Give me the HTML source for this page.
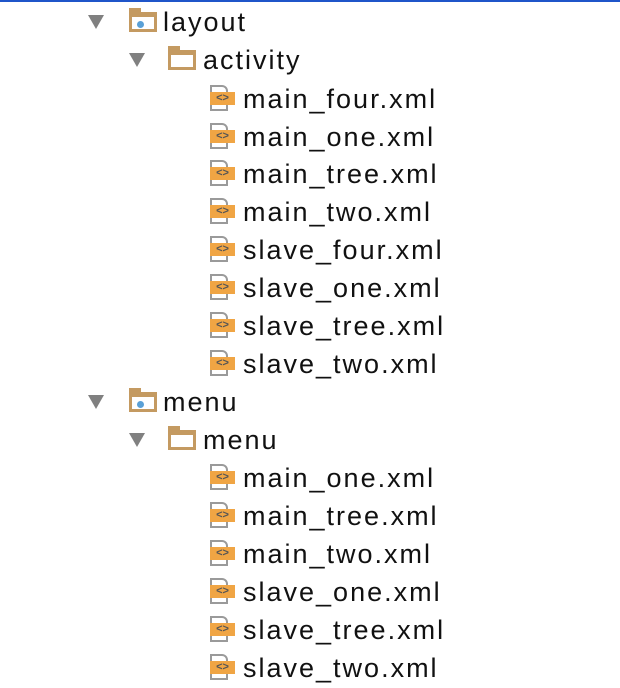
<!DOCTYPE html>
<html><head><style>
body{margin:0;width:620px;height:688px;background:#fff;position:relative;overflow:hidden;font-family:"Liberation Sans","DejaVu Sans",sans-serif;}
.top{position:absolute;left:0;top:0;width:620px;height:2px;background:#1f55c9;}
.r{position:absolute;height:38px;line-height:38px;font-size:27px;letter-spacing:2px;color:#111;white-space:nowrap;}
.tri{position:absolute;width:0;height:0;border-left:8px solid transparent;border-right:8px solid transparent;border-top:14px solid #808080;}
.fold{position:absolute;width:28px;height:20px;border:3px solid #c49a61;border-top-width:5px;box-sizing:border-box;background:#fff;}
.fold:before{content:"";position:absolute;left:-3px;top:-9px;width:12px;height:5px;background:#c49a61;}
.dot:after{content:"";position:absolute;left:5px;top:4px;width:7px;height:7px;border-radius:50%;background:#5aa0d6;}
.doc{position:absolute;width:18px;height:26px;border:2px solid #9a9a9a;box-sizing:border-box;border-top-right-radius:6px;background:#fff;}
.band{position:absolute;width:25px;height:13px;background:#f0a544;color:#555;font-size:11px;line-height:13px;text-align:center;font-weight:bold;}
</style></head><body>
<div class="top"></div>
<div class="tri" style="left:88px;top:15px"></div>
<div class="fold dot" style="left:129px;top:12px"></div>
<div class="r" style="left:163px;top:3px">layout</div>
<div class="tri" style="left:129px;top:53px"></div>
<div class="fold" style="left:168px;top:50px"></div>
<div class="r" style="left:203px;top:41px">activity</div>

<div class="tri" style="left:88px;top:395px"></div>
<div class="fold dot" style="left:129px;top:392px"></div>
<div class="r" style="left:163px;top:383px">menu</div>
<div class="tri" style="left:129px;top:433px"></div>
<div class="fold" style="left:168px;top:430px"></div>
<div class="r" style="left:203px;top:421px">menu</div>

<div id="files"></div>
<script>
var a=[["main_four.xml",99],["main_one.xml",137],["main_tree.xml",174],["main_two.xml",212],["slave_four.xml",250],["slave_one.xml",288],["slave_tree.xml",326],["slave_two.xml",364],
["main_one.xml",478],["main_tree.xml",516],["main_two.xml",554],["slave_one.xml",592],["slave_tree.xml",630],["slave_two.xml",668]];
var h="";
a.forEach(function(f){var c=f[1];
h+='<div class="doc" style="left:210px;top:'+(c-14)+'px"></div>';
h+='<div class="band" style="left:210px;top:'+(c-7)+'px">&lt;&gt;</div>';
h+='<div class="r" style="left:243px;top:'+(c-19)+'px">'+f[0]+'</div>';});
document.getElementById("files").innerHTML=h;
</script>
</body></html>
